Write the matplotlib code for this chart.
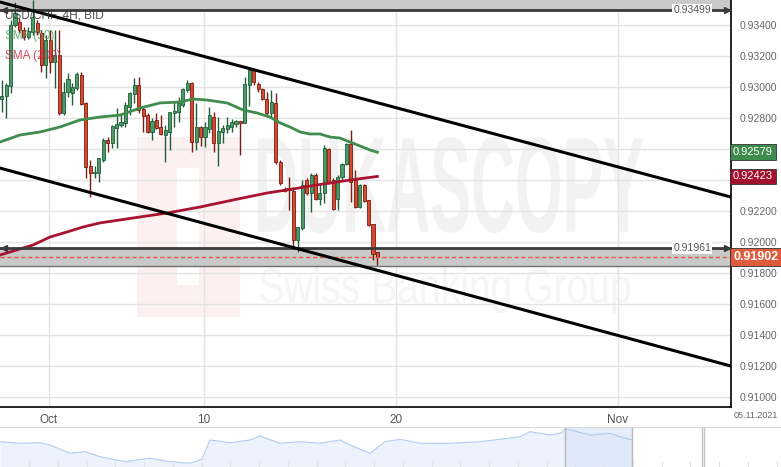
import numpy as np
import matplotlib
matplotlib.use("Agg")
import matplotlib.pyplot as plt
import matplotlib.transforms as mtransforms
from matplotlib.textpath import TextPath
from matplotlib.patches import PathPatch, Rectangle
from matplotlib.font_manager import FontProperties

plt.rcParams['font.family'] = ['Liberation Sans', 'DejaVu Sans']

# USD/CHF 4H candles (bar index 0 = first visible bar)
opens = [
    .92922, .92942, .93006, .93400, .93419, .93368, .93322, .93355, .93413, .93348,
    .93142, .93303, .93161, .93206, .92832, .92968, .92961, .92993, .93077, .92897,
    .92490, .92445, .92445, .92529, .92658, .92639, .92735, .92755, .92768, .92871,
    .92955, .93013, .92858, .92819, .92710, .92787, .92742, .92690, .92710, .92832,
    .92839, .92884, .92981, .93026, .92645, .92742, .92677, .92729, .92806, .92639,
    .92710, .92729, .92742, .92761, .92781, .92768, .93013, .93110, .93019, .92987,
    .92922, .92832, .92897, .92516, .92342, .92349, .92329, .92013, .92090, .92400,
    .92316, .92432, .92277, .92316, .92600, .92400, .92277, .92419, .92503, .92632,
    .92400, .92226, .92368, .92271, .92116, .91935]
highs = [
    .93045, .93026, .93432, .93548, .93445, .93387, .93387, .93561, .93432, .93368,
    .93335, .93368, .93368, .93368, .93032, .93090, .93026, .93097, .93097, .92903,
    .92529, .92490, .92542, .92671, .92677, .92755, .92864, .92819, .92903, .92968,
    .93058, .93064, .92871, .92832, .92800, .92832, .92819, .92755, .92839, .92903,
    .92935, .92993, .93045, .93032, .92897, .92748, .92774, .92871, .92839, .92806,
    .92755, .92806, .92793, .92787, .92781, .93064, .93122, .93122, .93032, .92993,
    .92968, .92981, .92961, .92529, .92355, .92419, .92342, .92097, .92400, .92413,
    .92445, .92445, .92368, .92626, .92606, .92413, .92432, .92510, .92639, .92723,
    .92465, .92374, .92374, .92271, .92116, .91935]
lows = [
    .92839, .92800, .92961, .93387, .93348, .93303, .93309, .93335, .93335, .93097,
    .93058, .93090, .92993, .92819, .92819, .92935, .92884, .92981, .92884, .92413,
    .92290, .92413, .92387, .92516, .92581, .92606, .92606, .92742, .92742, .92819,
    .92897, .92832, .92710, .92703, .92658, .92729, .92690, .92516, .92594, .92742,
    .92774, .92871, .92968, .92581, .92594, .92619, .92613, .92703, .92581, .92490,
    .92639, .92703, .92710, .92742, .92561, .92768, .92877, .93013, .92968, .92916,
    .92806, .92806, .92503, .92368, .92323, .92207, .91968, .91935, .92078, .92303,
    .92194, .92271, .92239, .92252, .92374, .92207, .92207, .92400, .92497, .92258,
    .92219, .92219, .92258, .92103, .91884, .91852]
closes = [
    .92942, .93013, .93400, .93477, .93368, .93322, .93361, .93451, .93355, .93142,
    .93303, .93161, .93206, .92832, .92968, .93051, .93000, .93084, .92890, .92484,
    .92445, .92452, .92542, .92658, .92639, .92748, .92761, .92774, .92884, .92961,
    .93013, .92852, .92813, .92710, .92781, .92735, .92697, .92723, .92839, .92845,
    .92897, .92987, .93026, .92645, .92742, .92677, .92742, .92819, .92639, .92716,
    .92735, .92755, .92774, .92781, .92768, .93019, .93110, .93032, .92987, .92922,
    .92832, .92903, .92516, .92381, .92329, .92336, .92013, .92097, .92368, .92316,
    .92432, .92277, .92316, .92606, .92387, .92213, .92419, .92503, .92632, .92387,
    .92226, .92368, .92265, .92110, .91923, .91902]

# moving averages (bar index, price)
sma50_t = [-0.4, 4.1, 8.7, 13.2, 17.7, 22.2, 26.8, 31.3, 35.8, 40.3, 43.3, 46.4, 51.0,
           54.6, 57.8, 60.7, 63.0, 65.2, 67.5, 69.7, 72.0, 74.3, 76.5, 78.8, 81.1, 83.3, 85]
sma50_v = [.92645, .92690, .92710, .92742, .92787, .92806, .92819, .92864, .92897, .92903,
           .92922, .92916, .92897, .92852, .92832, .92806, .92768, .92742, .92710, .92697,
           .92697, .92677, .92671, .92645, .92619, .92594, .92579]
sma200_t = [-0.4, 1.9, 7.1, 10.9, 14.8, 18.4, 22.2, 29.7, 37.4, 44.9, 52.3, 60.0, 64.5,
            71.3, 78.8, 85]
sma200_v = [.91916, .91936, .91981, .92032, .92065, .92097, .92123, .92155, .92187, .92226,
            .92271, .92316, .92336, .92368, .92400, .92423]

# drawn trend channel (bar index, price)
upper_channel_t = [-0.385, 165.0]
upper_channel_v = [.93548, .92290]
lower_channel_t = [-0.385, 165.0]
lower_channel_v = [.92477, .91200]

# horizontal levels
resist_level = 0.93499
support_level = 0.91961
support_band_low = 0.91845
last_price = 0.91902
sma50_last = 0.92579
sma200_last = 0.92423

yticks = [0.910, 0.912, 0.914, 0.916, 0.918, 0.920, 0.922, 0.924, 0.926, 0.928,
          0.930, 0.932, 0.934]
xtick_pos = [10.7, 45.8, 89.2, 139.4]
xtick_labels = ['Oct', '10', '20', 'Nov']

# navigator history (arbitrary time units, relative level)
nav_t = [0, 20, 40, 50, 70, 85, 100, 125, 150, 170, 190, 202, 210, 230, 250, 260, 280,
         300, 320, 340, 350, 370, 385, 400, 420, 450, 480, 500, 520, 530, 550, 562, 565,
         570, 590, 610, 620, 632]
nav_v = [25.3, 23.7, 24.3, 22, 13.7, 15.3, 10.3, 5.3, 8.7, 5.3, 3.7, 7.7, 27, 24.3, 27,
         31, 23.7, 25.3, 23.7, 27, 22, 13.7, 25.3, 27.7, 23.7, 23.7, 25.3, 27.7, 30.3,
         35.3, 32, 34.3, 38.7, 37, 32, 33.7, 30.3, 27]

W, H = 781, 467
fig = plt.figure(figsize=(W / 100, H / 100), dpi=100)
fig.patch.set_facecolor('white')


def fit_text(s, box, color, weight='normal'):
    # draw text stretched into a pixel box (x0, y0, x1, y1), y measured from top
    x0, y0, x1, y1 = box
    tp = TextPath((0, 0), s, size=100, prop=FontProperties(family='Liberation Sans', weight=weight))
    ext = tp.get_extents()
    tr = (mtransforms.Affine2D().translate(-ext.x0, -ext.y0)
          .scale((x1 - x0) / ext.width / W, (y1 - y0) / ext.height / H)
          .translate(x0 / W, 1 - y1 / H) + fig.transFigure)
    fig.patches.append(PathPatch(tp, transform=tr, facecolor=color, lw=0, zorder=-5))


# watermark
fig.patches.append(Rectangle((137 / W, 1 - 317 / H), 103 / W, 180 / H, transform=fig.transFigure,
                             facecolor='#fdf0f0', lw=0, zorder=-6))
fig.patches.append(Rectangle((177 / W, 1 - 285 / H), 22 / W, 117 / H, transform=fig.transFigure,
                             facecolor='white', lw=0, zorder=-5.5))
fit_text('DUKASCOPY', (258, 137, 643, 233), '#f2f2f2', weight='bold')
fit_text('Swiss Banking Group', (260, 267, 630, 313), '#f5f5f5')

ax = fig.add_axes([0, 60 / H, 731 / W, 407 / H])
ax.set_facecolor('none')
ax.set_xlim(-0.385, 165.0)
ax.set_ylim(0.90936, 0.93561)

ax.set_yticks(yticks)
ax.set_yticklabels([f"{v:.5f}" for v in yticks])
ax.yaxis.tick_right()
ax.set_xticks(xtick_pos)
ax.set_xticklabels(xtick_labels)
ax.tick_params(axis='y', length=0, pad=6, labelsize=7.5, labelcolor='#666666')
ax.tick_params(axis='x', length=0, pad=5, labelsize=8.5, labelcolor='#555555')
ax.grid(True, color='#e4e4e4', lw=1)
ax.set_axisbelow(True)
for side in ['left', 'top']:
    ax.spines[side].set_visible(False)
for side in ['right', 'bottom']:
    ax.spines[side].set_color('black')
    ax.spines[side].set_linewidth(1.2)

# bands and levels
ax.axhspan(resist_level, 0.9360, color='#c9c9c9', zorder=1.5, lw=0)
ax.axhspan(support_band_low, support_level, color='#c9c9c9', zorder=1.5, lw=0)
ax.axhline(support_band_low, color='#707070', lw=1, zorder=1.6)
for lvl in [resist_level, support_level]:
    ax.axhline(lvl, color='#3a3a3a', lw=2, zorder=4)
    ax.plot([0.6], [lvl], marker='<', ms=5, color='#3a3a3a', zorder=4, clip_on=False)
    ax.plot([164.0], [lvl], marker='>', ms=5, color='#3a3a3a', zorder=4, clip_on=False)
    ax.text(156.2, lvl, f"{lvl:.5f}", ha='center', va='center', fontsize=7.5, color='#555555',
            zorder=5, bbox=dict(facecolor='white', edgecolor='none', pad=0.5))
ax.axhline(last_price, color='#e8553a', lw=1, ls=(0, (3, 2)), zorder=4)

# candles
t = np.arange(len(opens))
o = np.array(opens)
c = np.array(closes)
up = c >= o
body_col = np.where(up, '#4c9a68', '#d64a30')
edge_col = np.where(up, '#1f5e37', '#7a1c10')
ax.vlines(t, lows, highs, colors=edge_col, lw=1, zorder=3)
ax.bar(t, np.maximum(np.abs(c - o), 0.00002), bottom=np.minimum(o, c), width=0.7,
       color=body_col, edgecolor=edge_col, lw=0.6, zorder=3.2)

# moving averages
ax.plot(sma50_t, sma50_v, color='#3f8c4c', lw=2, zorder=3.5)
ax.plot(sma200_t, sma200_v, color='#a8132f', lw=2, zorder=3.5)

# channel
ax.plot(upper_channel_t, upper_channel_v, color='black', lw=2.2, zorder=4.5)
ax.plot(lower_channel_t, lower_channel_v, color='black', lw=2.2, zorder=4.5)

# legend texts
fig.text(5 / W, 1 - 16 / H, 'USD/CHF, 4H, BID', fontsize=8.5, color='#333333', alpha=0.85, va='center')
fig.text(5 / W, 1 - 36 / H, 'SMA (50)', fontsize=8.5, color='#4f9a5d', alpha=0.85, va='center')
fig.text(5 / W, 1 - 56 / H, 'SMA (200)', fontsize=8.5, color='#c03048', alpha=0.85, va='center')

# price boxes on the right axis
for val, fc, size, wt in [(sma50_last, '#3e8a4c', 8, 'normal'), (sma200_last, '#a3102e', 8, 'normal'),
                          (last_price, '#e05a3c', 9, 'bold')]:
    ax.annotate(f"{val:.5f}", xy=(1.0, val), xycoords=('axes fraction', 'data'),
                xytext=(1.5, 0), textcoords='offset points', ha='left', va='center',
                fontsize=size, weight=wt, color='white', annotation_clip=False, zorder=10,
                bbox=dict(boxstyle='square,pad=0.25', facecolor=fc, edgecolor='#333333', lw=0.6))

fig.text(756 / W, 1 - 416 / H, '05.11.2021', fontsize=6.5, color='#666666', ha='center', va='center')

# navigator
nav = fig.add_axes([0, 0, 1, 40 / H])
nav.set_xlim(0, W)
nav.set_ylim(0, 40)
nav.axis('off')
nav.fill_between(nav_t, nav_v, color='#edf3fc', lw=0)
nav.plot(nav_t, nav_v, color='#b0cbef', lw=0.8)
nav.axvspan(565, 632, color='#dbe6f8', alpha=0.7, lw=0)
nav.vlines([565, 632], 0, 40, colors='#b8b8b8', lw=1)
nav.vlines(np.arange(29, 781, 28.75), 0, 6, colors='#e2e2e2', lw=0.8)
nav.vlines([702, 704], 0, 40, colors='#c4c4c4', lw=1)
nav.axhline(40, color='#dcdcdc', lw=1)

fig.savefig('out.png', dpi=100, facecolor='white')
